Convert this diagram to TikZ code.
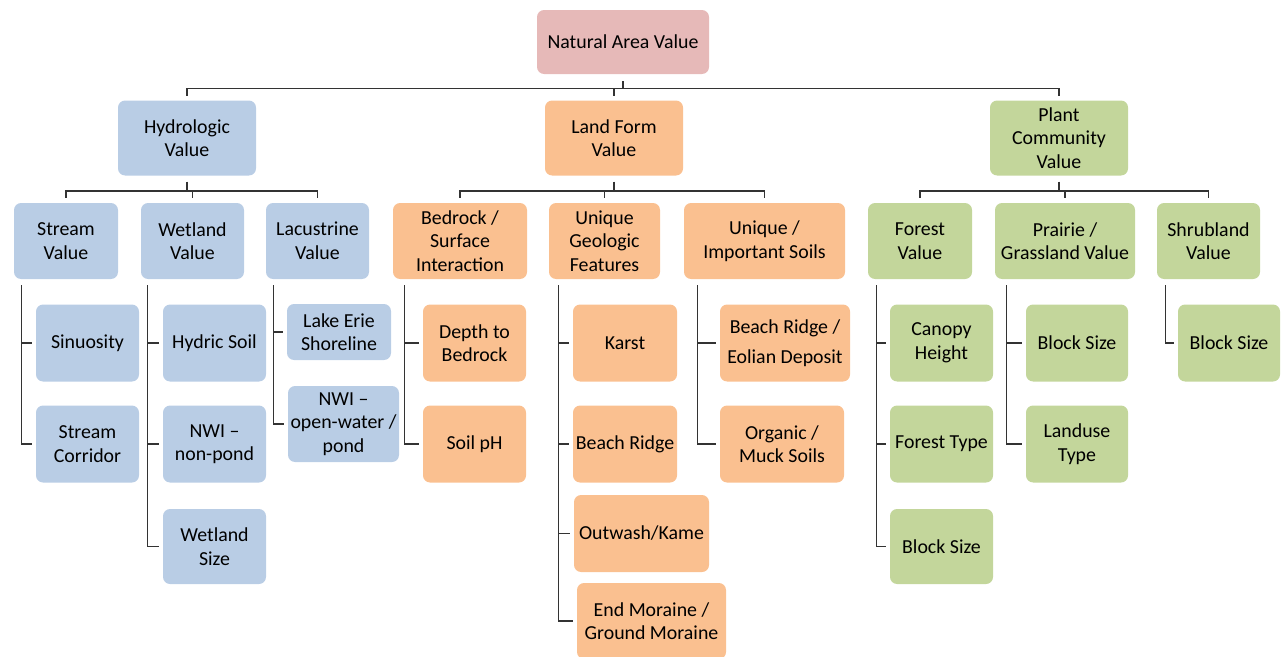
\documentclass[tikz,border=0pt]{standalone}
\usepackage{fontspec}
\setmainfont{Carlito}
\usepackage{tikz}

\definecolor{rootpink}{HTML}{E6B9B8}
\definecolor{hydroblue}{HTML}{B9CDE5}
\definecolor{landorange}{HTML}{FAC090}
\definecolor{plantgreen}{HTML}{C3D69B}

\tikzset{
	every box/.style={rounded corners=4pt, align=center, inner sep=1pt,
		font=\fontsize{11.3}{13.4}\selectfont},
	boxsize/.style 2 args={minimum width=#1*0.02cm, minimum height=#2*0.02cm},
	root/.style={every box, fill=rootpink},
	hydro/.style={every box, fill=hydroblue},
	land/.style={every box, fill=landorange},
	plant/.style={every box, fill=plantgreen},
	link/.style={draw=black!80, line width=0.9pt},
}

\begin{document}
\begin{tikzpicture}[x=0.02cm, y=-0.02cm]
	\useasboundingbox (0,0) rectangle (1281,656);

		% root
		\node [root, boxsize={172}{64}] (natural) at (623,42) {Natural Area Value};

		% first level
		\node [hydro, boxsize={138}{75}] (hydrologic) at (187,138) {Hydrologic\\Value};
		\node [land, boxsize={138}{75}] (landform) at (614,138) {Land Form\\Value};
		\node [plant, boxsize={138}{75}] (community) at (1059,138) {Plant\\Community\\Value};

		% second level
		\node [hydro, boxsize={104}{76}] (stream) at (66,241) {Stream\\Value};
		\node [hydro, boxsize={103}{76}] (wetland) at (192.5,241) {Wetland\\Value};
		\node [hydro, boxsize={103}{76}] (lacustrine) at (317.5,241) {Lacustrine\\Value};
		\node [land, boxsize={134}{76}] (bedrock) at (460,241) {Bedrock /\\Surface\\Interaction};
		\node [land, boxsize={111}{76}] (geologic) at (604.5,241) {Unique\\Geologic\\Features};
		\node [land, boxsize={161}{76}] (soils) at (764.5,241) {Unique /\\Important Soils};
		\node [plant, boxsize={104}{76}] (forest) at (920,241) {Forest\\Value};
		\node [plant, boxsize={140}{76}] (prairie) at (1065,241) {Prairie /\\Grassland Value};
		\node [plant, boxsize={103}{76}] (shrubland) at (1208.5,241) {Shrubland\\Value};

		% hydrologic leaves
		\node [hydro, boxsize={103}{77}] (sinuosity) at (87.5,343) {Sinuosity};
		\node [hydro, boxsize={103}{77}] (corridor) at (87.5,444) {Stream\\Corridor};
		\node [hydro, boxsize={103}{77}] (hydric) at (214.5,343) {Hydric Soil};
		\node [hydro, boxsize={103}{77}] (nonpond) at (214.5,444) {NWI --\\non-pond};
		\node [hydro, boxsize={103}{75}] (wetsize) at (214.5,546.5) {Wetland\\Size};
		\node [hydro, boxsize={104}{56}] (lakeerie) at (339,332) {Lake Erie\\Shoreline};
		\node [hydro, boxsize={111}{76}] (openwater) at (343.5,424) {NWI --\\open-water /\\pond};

		% land form leaves
		\node [land, boxsize={103}{77}] (depth) at (474.5,343) {Depth to\\Bedrock};
		\node [land, boxsize={103}{77}] (soilph) at (474.5,444) {Soil pH};
		\node [land, boxsize={104}{77}] (karst) at (625,343) {Karst};
		\node [land, boxsize={104}{77}] (beachridge) at (625,444) {Beach Ridge};
		\node [land, boxsize={135}{77}] (outwash) at (641.5,533.5) {Outwash/Kame};
		\node [land, boxsize={149}{76}] (moraine) at (651.5,621) {End Moraine /\\Ground Moraine};
		\node [land, boxsize={130}{77}] (eolian) at (785,343) {Beach Ridge /\\[4pt]Eolian Deposit};
		\node [land, boxsize={124}{77}] (muck) at (782,444) {Organic /\\Muck Soils};

		% plant community leaves
		\node [plant, boxsize={103}{77}] (canopy) at (941.5,343) {Canopy\\Height};
		\node [plant, boxsize={103}{77}] (foresttype) at (941.5,444) {Forest Type};
		\node [plant, boxsize={103}{75}] (forestblock) at (941.5,546.5) {Block Size};
		\node [plant, boxsize={102}{77}] (prairieblock) at (1077,343) {Block Size};
		\node [plant, boxsize={102}{77}] (landuse) at (1077,444) {Landuse\\Type};
		\node [plant, boxsize={102}{77}] (shrubblock) at (1229,343) {Block Size};

		% root to first level
		\foreach \c in {hydrologic,landform,community}
			\draw [link, shorten <=0.14cm, shorten >=0.09cm] (natural.south) -- ++(0,14) -| (\c.north);

		% first level to second level
		\foreach \p/\c in {hydrologic/stream,hydrologic/wetland,hydrologic/lacustrine,
				landform/bedrock,landform/geologic,landform/soils,
				community/forest,community/prairie,community/shrubland}
			\draw [link, shorten <=0.12cm, shorten >=0.1cm] (\p.south) -- ++(0,15) -| (\c.north);

		% rails down to the leaves
		\foreach \p/\d/\c in {stream/8/sinuosity,stream/8/corridor,
				wetland/7/hydric,wetland/7/nonpond,wetland/7/wetsize,
				lacustrine/8/lakeerie,lacustrine/8/openwater,
				bedrock/12/depth,bedrock/12/soilph,
				geologic/10/karst,geologic/10/beachridge,geologic/10/outwash,geologic/10/moraine,
				soils/14/eolian,soils/14/muck,
				forest/9/canopy,forest/9/foresttype,forest/9/forestblock,
				prairie/12/prairieblock,prairie/12/landuse,
				shrubland/9/shrubblock}
			\draw [link, shorten <=0.12cm, shorten >=0.08cm] ([xshift=\d*0.02cm]\p.south west) |- (\c.west);

\end{tikzpicture}
\end{document}
